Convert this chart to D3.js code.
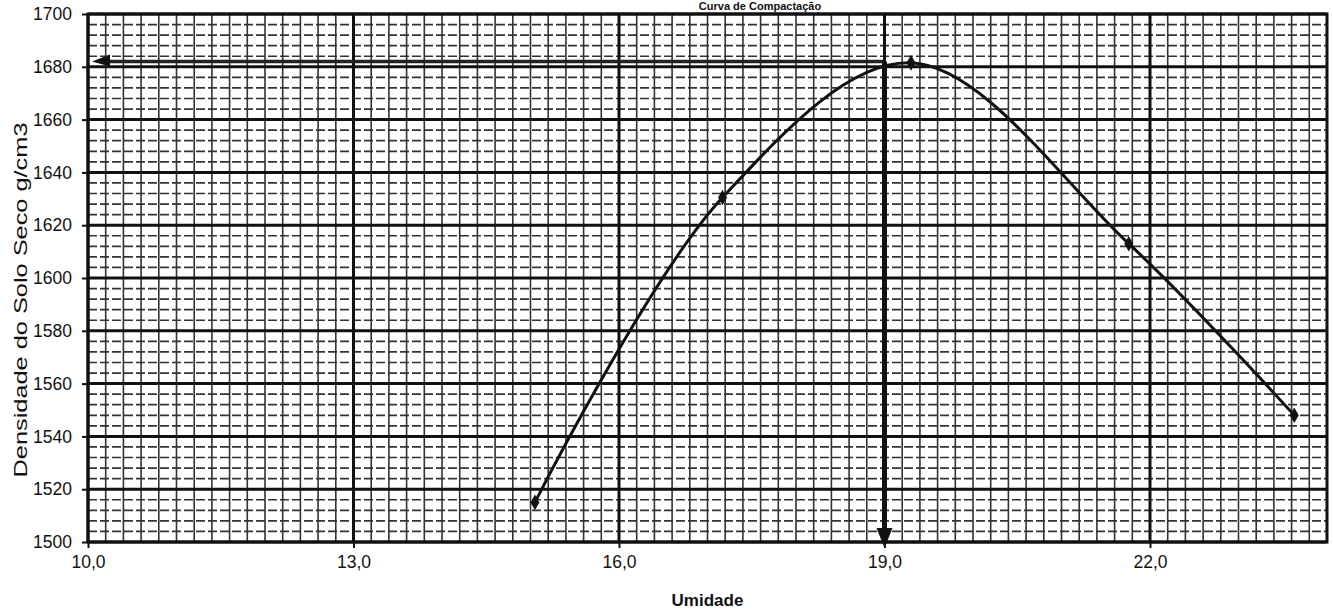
<!DOCTYPE html>
<html>
<head>
<meta charset="utf-8">
<script src="https://cdn.jsdelivr.net/npm/d3@7"></script>
<style>
  body { margin: 0; background: #fff; }
  svg { display: block; }
  text { font-family: "Liberation Sans", Arial, sans-serif; fill: #111; }
</style>
</head>
<body>
<div id="chart"></div>
<script>
// pontos do ensaio de compactacao
var umidade = [15.05, 17.17, 19.30, 21.76, 23.63];
var densidade = [1515, 1630.5, 1681.5, 1613, 1548];

var xTicks = [10, 13, 16, 19, 22];
var yTicks = [1500, 1520, 1540, 1560, 1580, 1600, 1620, 1640, 1660, 1680, 1700];

// umidade otima e densidade maxima (setas)
var umidadeOtima = [19.0];
var densidadeMax = [1682];

var width = 1333, height = 613;
var margin = {top: 14, right: 6, bottom: 71, left: 88};

var svg = d3.select("#chart").append("svg")
    .attr("width", width)
    .attr("height", height);

var x = d3.scaleLinear().domain([10, 24]).range([margin.left, width - margin.right]);
var y = d3.scaleLinear().domain([1500, 1700]).range([height - margin.bottom, margin.top]);

var grid = svg.append("g");

// linhas secundarias horizontais (tracejadas)
grid.selectAll(".hmin")
    .data(d3.range(1504, 1700, 4).filter(function(d){ return d % 20 != 0; }))
    .enter().append("line")
    .attr("x1", x(10)).attr("x2", x(24))
    .attr("y1", function(d){ return y(d); })
    .attr("y2", function(d){ return y(d); })
    .style("stroke", "#333")
    .style("stroke-width", 1.7)
    .style("stroke-dasharray", "9,3");

// linhas secundarias verticais
grid.selectAll(".vmin")
    .data(d3.range(10.2, 24, 0.2))
    .enter().append("line")
    .attr("x1", function(d){ return x(d); })
    .attr("x2", function(d){ return x(d); })
    .attr("y1", y(1500)).attr("y2", y(1700))
    .style("stroke", "#333")
    .style("stroke-width", 1.6);

// linhas principais
grid.selectAll(".hmaj")
    .data(yTicks)
    .enter().append("line")
    .attr("x1", x(10)).attr("x2", x(24))
    .attr("y1", function(d){ return y(d); })
    .attr("y2", function(d){ return y(d); })
    .style("stroke", "#111")
    .style("stroke-width", 3);

grid.selectAll(".vmaj")
    .data(xTicks)
    .enter().append("line")
    .attr("x1", function(d){ return x(d); })
    .attr("x2", function(d){ return x(d); })
    .attr("y1", y(1500)).attr("y2", y(1700))
    .style("stroke", "#111")
    .style("stroke-width", 3);

svg.append("rect")
    .attr("x", x(10)).attr("y", y(1700))
    .attr("width", x(24) - x(10))
    .attr("height", y(1500) - y(1700))
    .style("fill", "none")
    .style("stroke", "#111")
    .style("stroke-width", 3);

// eixos
var yAxis = svg.append("g")
    .attr("transform", "translate(" + x(10) + ",0)")
    .call(d3.axisLeft(y).tickValues(yTicks).tickSize(6).tickPadding(10)
        .tickFormat(d3.format("d")));
yAxis.select(".domain").remove();
yAxis.selectAll("line").style("stroke", "#111").style("stroke-width", 2);
yAxis.selectAll("text")
    .style("font-family", "Liberation Sans, Arial, sans-serif")
    .style("font-size", "17.5px")
    .style("fill", "#111");

var xAxis = svg.append("g")
    .attr("transform", "translate(0," + y(1500) + ")")
    .call(d3.axisBottom(x).tickValues(xTicks).tickSize(6).tickPadding(8)
        .tickFormat(function(d){ return d3.format(".1f")(d).replace(".", ","); }));
xAxis.select(".domain").remove();
xAxis.selectAll("line").style("stroke", "#111").style("stroke-width", 2);
xAxis.selectAll("text")
    .style("font-family", "Liberation Sans, Arial, sans-serif")
    .style("font-size", "17.5px")
    .style("fill", "#111");

// titulos
svg.append("text")
    .attr("x", (x(10) + x(24)) / 2)
    .attr("y", height - 7)
    .attr("text-anchor", "middle")
    .style("font-size", "17px")
    .style("font-weight", "bold")
    .text("Umidade");

svg.append("text")
    .attr("transform", "translate(27,300) rotate(-90)")
    .attr("text-anchor", "middle")
    .attr("textLength", 355)
    .attr("lengthAdjust", "spacingAndGlyphs")
    .style("font-size", "17.5px")
    .text("Densidade do Solo Seco g/cm3");

svg.append("text")
    .attr("x", 760)
    .attr("y", 10)
    .attr("text-anchor", "middle")
    .style("font-size", "11px")
    .style("font-weight", "bold")
    .text("Curva de Compactação");

// curva suavizada
var pontos = umidade.map(function(d, i){ return [d, densidade[i]]; });
var line = d3.line()
    .x(function(d){ return x(d[0]); })
    .y(function(d){ return y(d[1]); })
    .curve(d3.curveCatmullRom);

svg.append("path")
    .datum(pontos)
    .attr("d", line)
    .style("fill", "none")
    .style("stroke", "#111")
    .style("stroke-width", 3);

svg.selectAll(".ponto")
    .data(pontos)
    .enter().append("path")
    .attr("d", d3.symbol().type(d3.symbolDiamond).size(70))
    .attr("transform", function(d){ return "translate(" + x(d[0]) + "," + y(d[1]) + ")"; })
    .style("fill", "#111");

// setas: densidade maxima -> eixo y, umidade otima -> eixo x
var ax = x(umidadeOtima[0]), ay = y(densidadeMax[0]);

svg.append("line")
    .attr("x1", ax).attr("x2", x(10.15))
    .attr("y1", ay).attr("y2", ay)
    .style("stroke", "#222")
    .style("stroke-width", 3.5);

svg.append("path")
    .attr("d", "M" + (x(10) + 4) + "," + ay + " L" + (x(10) + 22) + "," + (ay - 7) + " L" + (x(10) + 22) + "," + (ay + 5) + " Z")
    .style("fill", "#111");

svg.append("line")
    .attr("x1", ax).attr("x2", ax)
    .attr("y1", ay).attr("y2", y(1500) - 10)
    .style("stroke", "#111")
    .style("stroke-width", 5);

svg.append("path")
    .attr("d", "M" + (ax - 8) + "," + (y(1500) - 14) + " L" + (ax + 8) + "," + (y(1500) - 14) + " L" + ax + "," + (y(1500) + 6) + " Z")
    .style("fill", "#111");
</script>
</body>
</html>
